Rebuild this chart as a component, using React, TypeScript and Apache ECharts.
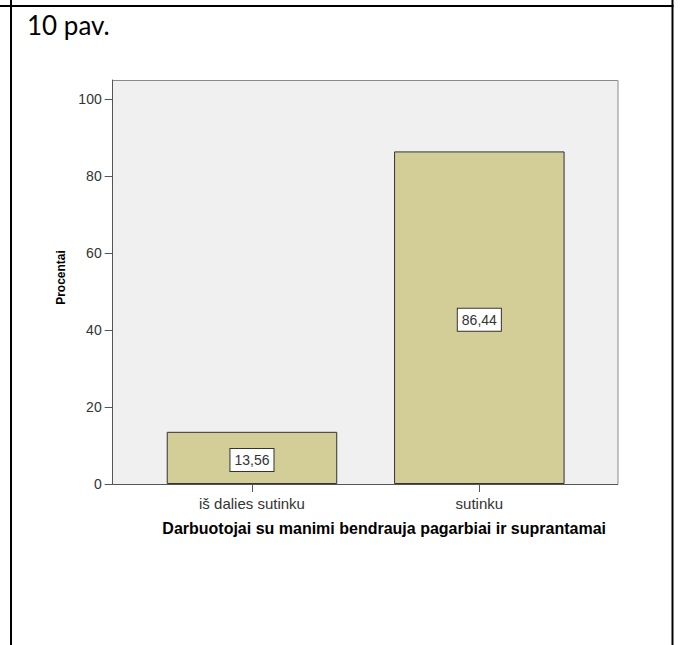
import React, { useEffect, useRef } from 'react';
import * as echarts from 'echarts';

const categories = ['iš dalies sutinku', 'sutinku'];
const percentages = [13.56, 86.44];
const yTickValues = [0, 20, 40, 60, 80, 100];
const xAxisTitle = 'Darbuotojai su manimi bendrauja pagarbiai ir suprantamai';
const yAxisTitle = 'Procentai';
const figureCaption = '10 pav.';

export default function App() {
  const ref = useRef<HTMLDivElement>(null);
  useEffect(() => {
    const chart = echarts.init(ref.current as HTMLDivElement, null, { renderer: 'svg' });
    const font = '"Liberation Sans", Arial, sans-serif';
    chart.setOption({
      animation: false,
      graphic: [
        { type: 'line', z: 20, shape: { x1: 0, y1: 6, x2: 673.5, y2: 6 }, style: { stroke: '#000', lineWidth: 2 } },
        { type: 'line', z: 20, shape: { x1: 11, y1: 0, x2: 11, y2: 645 }, style: { stroke: '#000', lineWidth: 2 } },
        { type: 'line', z: 20, shape: { x1: 672.5, y1: 0, x2: 672.5, y2: 645 }, style: { stroke: '#000', lineWidth: 2 } },
        {
          type: 'text', z: 20, x: 27, y: 25,
          style: { text: figureCaption, font: '26px Lato', fill: '#000', verticalAlign: 'middle' },
        },
        {
          type: 'rect', z: -1,
          shape: { x: 112.5, y: 80.5, width: 505.5, height: 404 },
          style: { fill: '#f0f0f0', stroke: '#8a8a8a', lineWidth: 1 },
        },
        {
          type: 'line', z: 10,
          shape: { x1: 112.5, y1: 484.5, x2: 618, y2: 484.5 },
          style: { stroke: '#555', lineWidth: 1 },
        },
      ],
      grid: { left: 138.3, right: 87, top: 80, bottom: 161 },
      xAxis: {
        type: 'category',
        data: categories,
        axisLine: { show: false },
        axisTick: { show: true, alignWithLabel: true, length: 8, lineStyle: { color: '#555' } },
        axisLabel: { margin: 12, fontSize: 15, color: '#333', fontFamily: font },
        name: xAxisTitle,
        nameLocation: 'middle',
        nameGap: 36,
        nameTextStyle: { fontWeight: 'bold', fontSize: 16, color: '#000', fontFamily: font, padding: [0, 0, 0, 37] },
      },
      yAxis: {
        type: 'value',
        min: 0,
        max: 105,
        interval: 20,
        offset: 25.6,
        axisLine: { show: true, lineStyle: { color: '#555' } },
        axisTick: { show: true, length: 8, customValues: yTickValues, lineStyle: { color: '#555' } },
        axisLabel: { margin: 11, fontSize: 14, color: '#333', fontFamily: font, customValues: yTickValues },
        splitLine: { show: false },
        name: yAxisTitle,
        nameLocation: 'middle',
        nameGap: 46,
        nameRotate: 90,
        nameTextStyle: { fontWeight: 'bold', fontSize: 12, color: '#000', fontFamily: font, padding: [0, 0, 0, 9] },
      },
      series: [
        {
          type: 'bar',
          data: percentages,
          barWidth: '75%',
          itemStyle: { color: '#d3ce97', borderColor: '#333', borderWidth: 1 },
          label: {
            show: true,
            position: 'inside',
            offset: [0, 2],
            formatter: (p: any) => Number(p.value).toFixed(2).replace('.', ','),
            backgroundColor: '#fff',
            borderColor: '#333',
            borderWidth: 1,
            padding: [3, 4, 3, 4],
            fontSize: 14,
            lineHeight: 16,
            fontFamily: font,
            color: '#333',
          },
        },
      ],
    });
    return () => chart.dispose();
  }, []);
  return <div ref={ref} style={{ position: 'absolute', left: 0, top: 0, width: 680, height: 645, background: '#fff' }} />;
}
